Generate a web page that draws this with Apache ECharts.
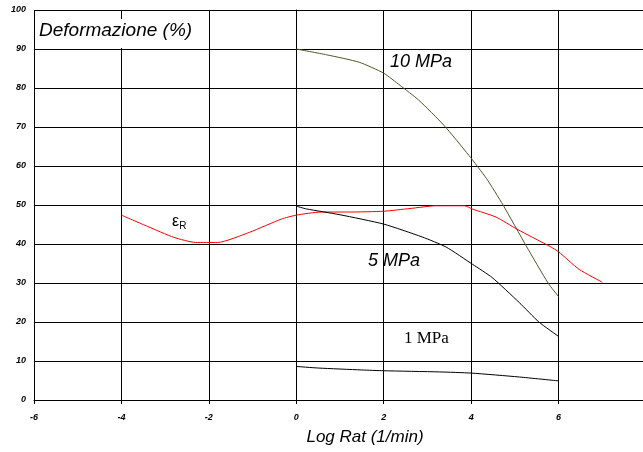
<!DOCTYPE html>
<html>
<head>
<meta charset="utf-8">
<script src="https://cdn.jsdelivr.net/npm/echarts@6/dist/echarts.min.js"></script>
<style>html,body{margin:0;padding:0;background:#fff}#c{width:643px;height:452px}</style>
</head>
<body>
<div id="c"></div>
<script>
// X ticks (Log Rat) and Y ticks (Deformazione %)
var xTicks = [-6, -4, -2, 0, 2, 4, 6, 8];
var yTicks = [0, 10, 20, 30, 40, 50, 60, 70, 80, 90, 100];

// 10 MPa
var x10 = [0, 0.7, 1.44, 2, 2.37, 2.8, 3.38, 3.95, 4.35, 4.73, 5.26, 5.76, 6];
var y10 = [90, 88.5, 86.6, 83.8, 80.7, 76.9, 70.4, 62.7, 56.8, 50, 39.5, 30, 26.5];

// eps_R (red)
var xR = [-4, -3.4, -2.8, -2.3, -1.8, -1.07, -0.34, 0, 0.57, 1.2, 2, 2.6, 3.2, 3.85, 4.02, 4.57, 5.05, 5.83, 6, 6.47, 7];
var yR = [47.4, 44.5, 41.7, 40.4, 40.4, 43, 46.4, 47.4, 48.2, 48.2, 48.4, 49.1, 49.8, 49.8, 49, 46.9, 43.8, 39.2, 38, 33.5, 30.2];

// 5 MPa
var x5 = [0, 0.23, 1, 2, 2.88, 3.43, 4.03, 4.48, 5.1, 5.55, 6];
var y5 = [49.7, 49, 47.5, 45.1, 41.8, 39.2, 34.8, 31.4, 25, 20, 16.3];

// 1 MPa
var x1 = [0, 0.5, 1.5, 2, 3.27, 4, 5.1, 6];
var y1 = [8.6, 8.2, 7.7, 7.5, 7.2, 6.9, 5.9, 4.9];

function zip(a, b) { return a.map(function (v, i) { return [v, b[i]]; }); }

var chart = echarts.init(document.getElementById('c'), null, { renderer: 'canvas' });
var lineSeries = function (name, xs, ys, color) {
  return {
    name: name, type: 'line', data: zip(xs, ys), showSymbol: false, smooth: 0.2,
    lineStyle: { color: color, width: 1 }, animation: false, z: 3
  };
};
chart.setOption({
  animation: false,
  backgroundColor: '#fff',
  grid: { left: 34, right: -3, top: 10, bottom: 52, containLabel: false, outerBoundsMode: 'none' },
  xAxis: {
    type: 'value', min: xTicks[0], max: xTicks[xTicks.length - 1], interval: 2,
    axisLine: { show: true, lineStyle: { color: '#000', width: 1 } },
    axisTick: { show: true, length: 4, lineStyle: { color: '#000' } },
    axisLabel: { margin: 13, fontSize: 9, fontStyle: 'italic', fontWeight: 'bold', color: '#000', fontFamily: 'Liberation Sans', showMaxLabel: true, showMinLabel: true },
    splitLine: { show: true, lineStyle: { color: '#000', width: 1 } }
  },
  yAxis: {
    type: 'value', min: yTicks[0], max: yTicks[yTicks.length - 1], interval: 10,
    axisLine: { show: true, lineStyle: { color: '#000', width: 1 } },
    axisTick: { show: true, length: 4, lineStyle: { color: '#000' } },
    axisLabel: { margin: 8, fontSize: 9, fontStyle: 'italic', fontWeight: 'bold', color: '#000', fontFamily: 'Liberation Sans' },
    splitLine: { show: true, lineStyle: { color: '#000', width: 1 } }
  },
  series: [
    lineSeries('10 MPa', x10, y10, '#4a5a28'),
    lineSeries('eR', xR, yR, '#ff0000'),
    lineSeries('5 MPa', x5, y5, '#000000'),
    lineSeries('1 MPa', x1, y1, '#000000')
  ],
  graphic: [
    { type: 'rect', shape: { x: 36, y: 19, width: 162, height: 29 }, style: { fill: '#fff' }, z: 10 },
    { type: 'text', x: 39, y: 31, style: { text: 'Deformazione (%)', font: 'italic 19px "Liberation Sans"', fill: '#000', textVerticalAlign: 'middle' }, z: 11 },
    { type: 'text', x: 390, y: 62, style: { text: '10 MPa', font: 'italic 18px "Liberation Sans"', fill: '#000', textVerticalAlign: 'middle' }, z: 11 },
    { type: 'text', x: 368, y: 261, style: { text: '5 MPa', font: 'italic 18px "Liberation Sans"', fill: '#000', textVerticalAlign: 'middle' }, z: 11 },
    { type: 'text', x: 404, y: 339, style: { text: '1 MPa', font: '17px "Liberation Serif"', fill: '#000', textVerticalAlign: 'middle' }, z: 11 },
    { type: 'text', x: 172, y: 222, style: { text: '{e|ε}{s|R}', rich: { e: { fontSize: 16, fontFamily: 'Liberation Sans', color: '#000' }, s: { fontSize: 10, fontFamily: 'Liberation Sans', color: '#000', padding: [8, 0, 0, 0] } }, textVerticalAlign: 'middle' }, z: 11 },
    { type: 'text', x: 365, y: 437, style: { text: 'Log Rat (1/min)', font: 'italic 17px "Liberation Sans"', fill: '#000', textAlign: 'center', textVerticalAlign: 'middle' }, z: 11 }
  ]
});
</script>
</body>
</html>
